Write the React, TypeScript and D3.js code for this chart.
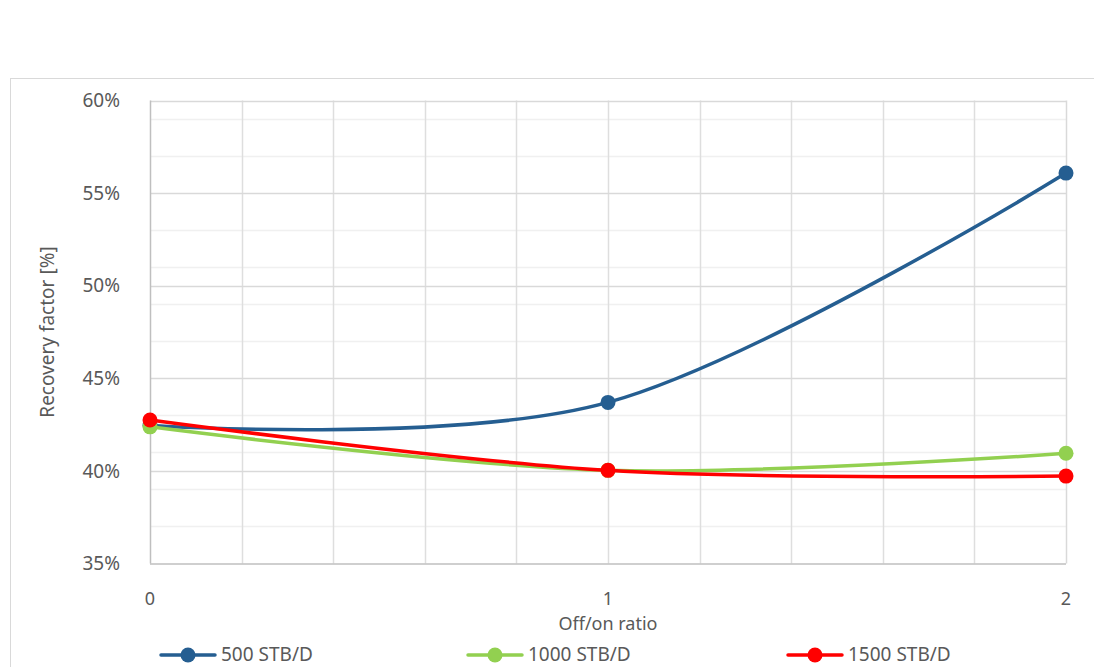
import React from "react";
import * as d3 from "d3";

const xValues = [0, 1, 2];
const seriesNames = ["500 STB/D", "1000 STB/D", "1500 STB/D"];
const series500 = [0.4245, 0.437, 0.5608];
const series1000 = [0.4238, 0.4003, 0.4095];
const series1500 = [0.4275, 0.4003, 0.3972];
const yTicks = [0.35, 0.4, 0.45, 0.5, 0.55, 0.6];
const yMinor = [0.37, 0.39, 0.41, 0.43, 0.47, 0.49, 0.51, 0.53, 0.57, 0.59];
const xTicks = [0, 1, 2];
const xGrid = [0.2, 0.4, 0.6, 0.8, 1.0, 1.2, 1.4, 1.6, 1.8];
const colors = ["#255E91", "#92D050", "#FF0000"];

const W = 1094;
const H = 667;
const FONT = "'Noto Sans', 'Open Sans', sans-serif";
const TXT = "#595959";

export default function App() {
  const x = d3.scaleLinear().domain([0, 2]).range([150, 1066]);
  const y = d3.scaleLinear().domain([0.35, 0.6]).range([563.5, 100.5]);
  const allSeries = [series500, series1000, series1500];
  const line = d3
    .line<number>()
    .x((_, i) => x(xValues[i]))
    .y((d) => y(d))
    .curve(d3.curveCatmullRom.alpha(0));
  const fmt = d3.format(".0%");
  const legendX = [161, 468, 788];

  return (
    <svg
      width={W}
      height={H}
      style={{ position: "absolute", left: 0, top: 0, background: "#fff" }}
    >
      <rect x={10.5} y={78.5} width={W + 10} height={H} fill="#fff" stroke="#d9d9d9" strokeWidth={1} />
      {yMinor.map((v) => (
        <line key={"ym" + v} x1={x(0)} x2={x(2)} y1={Math.round(y(v)) + 0.5} y2={Math.round(y(v)) + 0.5} stroke="#f0f0f0" strokeWidth={1.5} />
      ))}
      {xGrid.map((v) => (
        <line key={"xg" + v} x1={Math.round(x(v)) + 0.5} x2={Math.round(x(v)) + 0.5} y1={y(0.6)} y2={y(0.35)} stroke="#dedede" strokeWidth={1.5} />
      ))}
      {yTicks.slice(1).map((v) => (
        <line key={"yg" + v} x1={x(0)} x2={x(2)} y1={Math.round(y(v)) + 0.5} y2={Math.round(y(v)) + 0.5} stroke="#d9d9d9" strokeWidth={1.5} />
      ))}
      <line x1={x(2) + 0.5} x2={x(2) + 0.5} y1={y(0.6)} y2={y(0.35)} stroke="#d9d9d9" strokeWidth={1.5} />
      <line x1={x(0) + 0.5} x2={x(0) + 0.5} y1={y(0.6)} y2={y(0.35)} stroke="#bfbfbf" strokeWidth={1.5} />
      <line x1={x(0)} x2={x(2)} y1={y(0.35) + 0.5} y2={y(0.35) + 0.5} stroke="#bfbfbf" strokeWidth={1.5} />

      {yTicks.map((v) => (
        <text key={"yt" + v} x={120} y={y(v)} dy="0.35em" textAnchor="end" fontFamily={FONT} fontSize={19} fill={TXT}>
          {fmt(v)}
        </text>
      ))}
      {xTicks.map((v) => (
        <text key={"xt" + v} x={x(v)} y={605} textAnchor="middle" fontFamily={FONT} fontSize={18} fill={TXT}>
          {v}
        </text>
      ))}
      <text x={x(1)} y={630} textAnchor="middle" fontFamily={FONT} fontSize={18} fill={TXT}>
        Off/on ratio
      </text>
      <text
        transform={`translate(54, ${(y(0.6) + y(0.35)) / 2}) rotate(-90)`}
        textAnchor="middle"
        fontFamily={FONT}
        fontSize={19}
        fill={TXT}
      >
        Recovery factor [%]
      </text>

      {allSeries.map((s, si) => (
        <g key={"s" + si}>
          <path d={line(s) || ""} fill="none" stroke={colors[si]} strokeWidth={3.5} strokeLinecap="round" />
          {s.map((v, i) => (
            <circle key={i} cx={x(xValues[i])} cy={y(v)} r={7.5} fill={colors[si]} />
          ))}
        </g>
      ))}

      {seriesNames.map((name, i) => (
        <g key={"lg" + i}>
          <line x1={legendX[i]} x2={legendX[i] + 54} y1={655} y2={655} stroke={colors[i]} strokeWidth={3.5} strokeLinecap="round" />
          <circle cx={legendX[i] + 27} cy={655} r={7.5} fill={colors[i]} />
          <text x={legendX[i] + 60} y={661} fontFamily={FONT} fontSize={19} fill={TXT}>
            {name}
          </text>
        </g>
      ))}
    </svg>
  );
}
